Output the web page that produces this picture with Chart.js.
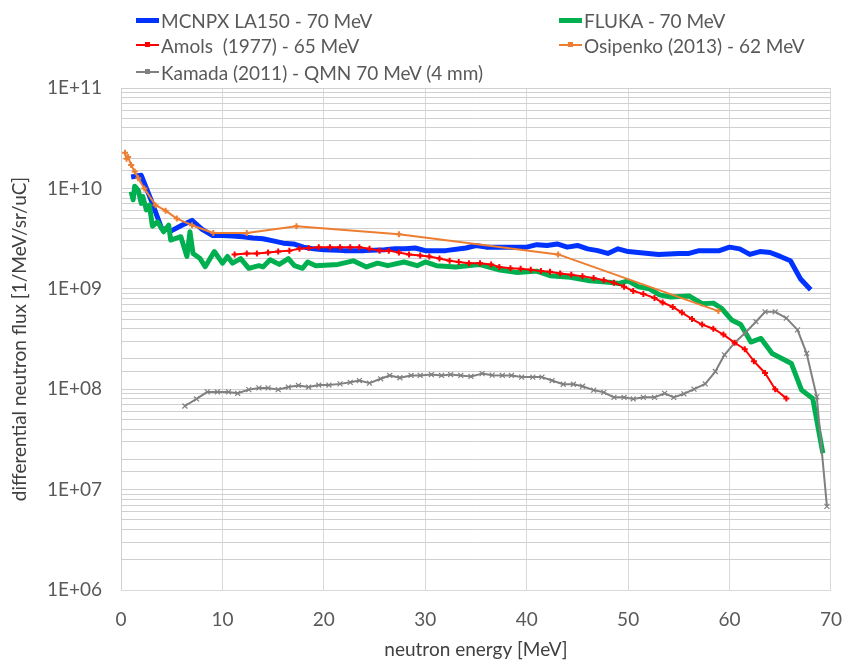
<!DOCTYPE html>
<html>
<head>
<meta charset="utf-8">
<script src="https://cdn.jsdelivr.net/npm/chart.js@4/dist/chart.umd.min.js"></script>
<style>
  html, body { margin: 0; padding: 0; background: #fff; }
  #wrap { position: relative; width: 860px; height: 661px; }
  #legend { position: absolute; left: 0; top: 0; width: 860px; height: 88px;
    font-family: Lato, "Open Sans", sans-serif; font-size: 19px; color: #595959; }
  .item { position: absolute; display: flex; align-items: center; white-space: pre; height: 24px; }
  .swatch { position: relative; width: 23px; margin-right: 2px; }
  .mark { position: absolute; left: 9px; top: -2px; width: 5px; height: 5px; }
</style>
</head>
<body>
<div id="wrap">
  <canvas id="chart" width="860" height="661"></canvas>
  <div id="legend"></div>
</div>
<script>
// series data (energy in MeV, flux in 1/MeV/sr/uC)
const mcnpxE = [1, 2, 3, 4, 5, 6, 7, 8, 9, 10, 11, 12, 13, 14, 15, 16, 17, 18, 19, 20, 22, 24, 26, 27, 28, 29, 30, 32, 34, 35, 36, 38, 40, 41, 42, 43, 44, 45, 46, 47, 48, 49, 50, 51, 53, 55, 56, 57, 59, 60, 61, 62, 63, 64, 65, 66, 67, 68];
const mcnpxFlux = [1.3e10, 1.35e10, 7.5e9, 4.0e9, 3.8e9, 4.3e9, 4.8e9, 3.9e9, 3.4e9, 3.4e9, 3.35e9, 3.3e9, 3.2e9, 3.15e9, 3.0e9, 2.85e9, 2.8e9, 2.6e9, 2.5e9, 2.45e9, 2.4e9, 2.4e9, 2.45e9, 2.5e9, 2.5e9, 2.55e9, 2.4e9, 2.4e9, 2.55e9, 2.7e9, 2.6e9, 2.6e9, 2.6e9, 2.75e9, 2.7e9, 2.8e9, 2.6e9, 2.7e9, 2.5e9, 2.4e9, 2.25e9, 2.5e9, 2.35e9, 2.3e9, 2.2e9, 2.25e9, 2.25e9, 2.4e9, 2.4e9, 2.6e9, 2.5e9, 2.2e9, 2.35e9, 2.3e9, 2.1e9, 1.9e9, 1.25e9, 9.8e8];

const flukaE = [1.0, 1.2, 1.35, 1.7, 2.0, 2.15, 2.5, 2.8, 3.1, 3.6, 4.2, 4.7, 4.9, 5.9, 6.5, 6.8, 7.1, 7.8, 8.3, 9.2, 10, 10.5, 11, 11.8, 12.6, 13.6, 14, 14.7, 15.6, 16.5, 17.1, 17.9, 18.4, 19.2, 21.4, 22.9, 24.2, 25.3, 26.3, 27.9, 29.2, 30, 31.1, 33, 35.3, 37.2, 39.1, 41, 42.3, 44.3, 46.2, 48.1, 49.1, 50, 51, 52.1, 53.1, 54.2, 56, 57.3, 58.4, 59.2, 60.2, 61.1, 62.1, 63.1, 64.2, 66.1, 67.1, 68.2, 69.2];
const flukaFlux = [9.3e9, 7.7e9, 1.05e10, 9.6e9, 7.1e9, 8.3e9, 6.1e9, 6.8e9, 4.2e9, 4.65e9, 3.7e9, 4.3e9, 3.06e9, 3.3e9, 2.1e9, 3.7e9, 2.25e9, 2.0e9, 1.66e9, 2.35e9, 1.8e9, 2.1e9, 1.8e9, 2.0e9, 1.6e9, 1.7e9, 1.65e9, 1.95e9, 1.75e9, 2.0e9, 1.7e9, 1.6e9, 1.85e9, 1.7e9, 1.75e9, 1.9e9, 1.65e9, 1.8e9, 1.7e9, 1.85e9, 1.7e9, 1.85e9, 1.7e9, 1.65e9, 1.75e9, 1.55e9, 1.45e9, 1.5e9, 1.35e9, 1.3e9, 1.2e9, 1.16e9, 1.13e9, 1.2e9, 1.05e9, 1.0e9, 8.7e8, 8.3e8, 8.5e8, 7.1e8, 7.2e8, 6.4e8, 4.9e8, 4.4e8, 2.95e8, 3.2e8, 2.27e8, 1.8e8, 9.8e7, 8.1e7, 2.3e7];

const amolsE = [11.2, 12.4, 13.4, 14.5, 15.5, 16.6, 17.6, 18.5, 19.5, 20.6, 21.6, 22.6, 23.5, 24.5, 25.5, 26.4, 27.4, 28.4, 29.5, 30.4, 31.4, 32.4, 33.3, 34.3, 35.4, 36.5, 37.3, 38.4, 39.4, 40.4, 41.4, 42.3, 43.3, 44.4, 45.5, 46.6, 47.6, 48.6, 49.6, 50.5, 51.5, 52.6, 53.4, 54.4, 55.3, 56.3, 57.3, 58.4, 59.4, 60.5, 61.5, 62.4, 63.5, 64.5, 65.6];
const amolsFlux = [2.2e9, 2.25e9, 2.25e9, 2.3e9, 2.35e9, 2.4e9, 2.5e9, 2.55e9, 2.6e9, 2.6e9, 2.6e9, 2.6e9, 2.6e9, 2.5e9, 2.4e9, 2.4e9, 2.3e9, 2.2e9, 2.15e9, 2.1e9, 2.0e9, 1.9e9, 1.85e9, 1.8e9, 1.8e9, 1.75e9, 1.65e9, 1.6e9, 1.58e9, 1.55e9, 1.5e9, 1.48e9, 1.42e9, 1.38e9, 1.33e9, 1.28e9, 1.22e9, 1.15e9, 1.05e9, 9.5e8, 8.9e8, 8.1e8, 7.3e8, 6.6e8, 5.8e8, 5.0e8, 4.4e8, 4.0e8, 3.5e8, 2.9e8, 2.5e8, 1.9e8, 1.45e8, 1.0e8, 8.1e7];

const osipenkoE = [0.4, 0.55, 0.7, 1.0, 1.35, 1.7, 2.3, 3.4, 4.4, 5.5, 7.0, 9.1, 12.4, 17.3, 27.4, 43.1, 58.9];
const osipenkoFlux = [2.27e10, 1.97e10, 2.05e10, 1.71e10, 1.47e10, 1.26e10, 1.0e10, 6.8e9, 6.0e9, 5.0e9, 4.3e9, 3.6e9, 3.6e9, 4.2e9, 3.5e9, 2.2e9, 6.0e8];

const kamadaE = [6.3, 7.45, 8.5, 9.5, 10.6, 11.5, 12.6, 13.6, 14.5, 15.5, 16.5, 17.5, 18.5, 19.5, 20.5, 21.6, 22.6, 23.5, 24.5, 25.6, 26.5, 27.5, 28.6, 29.5, 30.6, 31.6, 32.5, 33.5, 34.5, 35.6, 36.6, 37.6, 38.5, 39.5, 40.6, 41.5, 42.5, 43.6, 44.6, 45.5, 46.6, 47.6, 48.6, 49.6, 50.5, 51.5, 52.6, 53.6, 54.5, 55.5, 56.5, 57.6, 58.6, 59.5, 60.5, 61.5, 62.6, 63.5, 64.5, 65.6, 66.7, 67.6, 68.6, 69.6];
const kamadaFlux = [6.8e7, 8.0e7, 9.4e7, 9.4e7, 9.4e7, 9.1e7, 9.9e7, 1.03e8, 1.03e8, 9.9e7, 1.05e8, 1.09e8, 1.05e8, 1.1e8, 1.1e8, 1.13e8, 1.17e8, 1.22e8, 1.15e8, 1.27e8, 1.37e8, 1.3e8, 1.37e8, 1.37e8, 1.4e8, 1.37e8, 1.4e8, 1.37e8, 1.34e8, 1.43e8, 1.38e8, 1.37e8, 1.37e8, 1.32e8, 1.32e8, 1.32e8, 1.22e8, 1.12e8, 1.12e8, 1.07e8, 9.8e7, 9.3e7, 8.3e7, 8.3e7, 8.0e7, 8.3e7, 8.3e7, 9.1e7, 8.3e7, 9.0e7, 1.0e8, 1.13e8, 1.5e8, 2.2e8, 2.9e8, 3.6e8, 4.7e8, 5.9e8, 5.9e8, 5.1e8, 3.9e8, 2.27e8, 8.4e7, 6.8e6];

const seriesNames = ['MCNPX LA150 - 70 MeV', 'FLUKA - 70 MeV', 'Amols  (1977) - 65 MeV', 'Osipenko (2013) - 62 MeV', 'Kamada (2011) - QMN 70 MeV (4 mm)'];
const seriesColors = ['#0033ff', '#00b050', '#ff0000', '#ed7d31', '#808080'];
const xTicks = [0, 10, 20, 30, 40, 50, 60, 70];

function pts(xs, ys) {
  return xs.map((x, i) => ({ x: x, y: ys[i] }));
}

const ds = [
  { label: seriesNames[0], data: pts(mcnpxE, mcnpxFlux), borderColor: seriesColors[0], borderWidth: 5, pointRadius: 0, order: 5 },
  { label: seriesNames[1], data: pts(flukaE, flukaFlux), borderColor: seriesColors[1], borderWidth: 5, pointRadius: 0, order: 4 },
  { label: seriesNames[2], data: pts(amolsE, amolsFlux), borderColor: seriesColors[2], borderWidth: 2, pointStyle: 'cross', pointRadius: 3, pointBorderWidth: 2, order: 2 },
  { label: seriesNames[3], data: pts(osipenkoE, osipenkoFlux), borderColor: seriesColors[3], borderWidth: 2, pointStyle: 'cross', pointRadius: 3, pointBorderWidth: 2, order: 1 },
  { label: seriesNames[4], data: pts(kamadaE, kamadaFlux), borderColor: seriesColors[4], borderWidth: 2, pointStyle: 'crossRot', pointRadius: 3.5, pointBorderWidth: 1.2, order: 3 }
];
ds.forEach(d => {
  d.backgroundColor = d.borderColor;
  d.fill = false;
  d.tension = 0;
  d.borderJoinStyle = 'round';
});

// legend in two columns, like the excel one
const legendPos = [[136, 20], [559, 20], [136, 45], [559, 45], [136, 72]];
const legend = document.getElementById('legend');
seriesNames.forEach((name, i) => {
  const it = document.createElement('div');
  it.className = 'item';
  it.style.left = legendPos[i][0] + 'px';
  it.style.top = (legendPos[i][1] - 12) + 'px';
  const sw = document.createElement('span');
  sw.className = 'swatch';
  sw.style.height = (i < 2 ? 5 : 2) + 'px';
  sw.style.background = seriesColors[i];
  if (i >= 2) {
    const m = document.createElement('span');
    m.className = 'mark';
    m.style.background = seriesColors[i];
    sw.appendChild(m);
  }
  it.appendChild(sw);
  it.appendChild(document.createTextNode(name));
  legend.appendChild(it);
});

const tickFont = { family: 'Lato, "Open Sans", sans-serif', size: 19 };
const titleFont = { family: 'Lato, "Open Sans", sans-serif', size: 19 };

new Chart(document.getElementById('chart'), {
  type: 'line',
  data: { datasets: ds },
  options: {
    responsive: false,
    animation: false,
    layout: { padding: { top: 88, right: 14, left: 0, bottom: 0 } },
    plugins: { legend: { display: false }, tooltip: { enabled: false } },
    scales: {
      x: {
        type: 'linear', min: 0, max: 70,
        afterBuildTicks: s => { s.ticks = xTicks.map(v => ({ value: v })); },
        grid: { color: '#d9d9d9', lineWidth: 1, drawTicks: false },
        border: { color: '#d9d9d9' },
        ticks: { color: '#595959', font: tickFont, padding: 18 },
        title: { display: true, text: 'neutron energy [MeV]', color: '#404040', font: titleFont, padding: { top: 4, bottom: 0 } },
        afterFit: s => { s.height = 71; }
      },
      y: {
        type: 'logarithmic', min: 1e6, max: 1e11,
        grid: { color: '#d0d0d0', lineWidth: 1, drawTicks: false },
        border: { color: '#d0d0d0' },
        ticks: {
          autoSkip: false, color: '#595959', font: tickFont, padding: 19,
          callback: v => {
            const e = Math.log10(v);
            return Math.abs(e - Math.round(e)) < 1e-9 ? '1E+' + String(Math.round(e)).padStart(2, '0') : '';
          }
        },
        title: { display: true, text: 'differential neutron flux [1/MeV/sr/uC]', color: '#404040', font: titleFont, padding: { top: 8, bottom: 4 } },
        afterFit: s => { s.width = 121; }
      }
    }
  }
});
</script>
</body>
</html>
